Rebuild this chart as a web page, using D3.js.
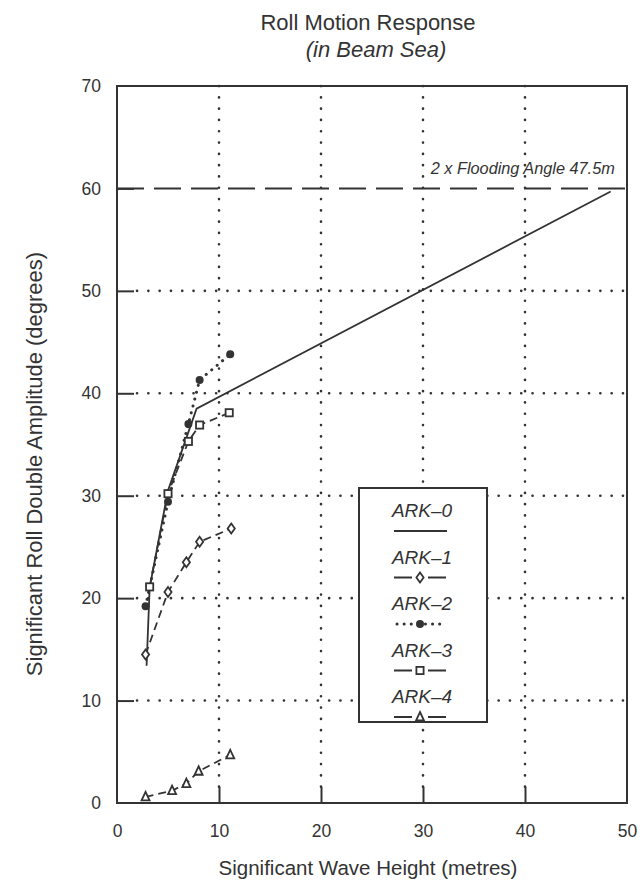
<!DOCTYPE html>
<html>
<head>
<meta charset="utf-8">
<script src="https://cdn.jsdelivr.net/npm/d3@7"></script>
<style>
  html, body { margin: 0; padding: 0; background: #fff; }
  svg { display: block; }
  text { font-family: "Liberation Sans", Arial, Helvetica, sans-serif; fill: #333; }
</style>
</head>
<body>
<svg id="chart" width="642" height="895"></svg>
<script>
// Wave heights (m) and significant roll double amplitude (deg) per hull model
const ark0Wave = [2.9, 3.2, 5.0, 7.8, 48.4];
const ark0Roll = [13.4, 21.0, 30.5, 38.5, 59.7];

const ark1Wave = [2.8, 5.0, 6.8, 8.1, 11.2];
const ark1Roll = [14.5, 20.6, 23.5, 25.5, 26.8];

const ark2Wave = [2.8, 5.0, 7.0, 8.1, 11.1];
const ark2Roll = [19.2, 29.4, 37.0, 41.3, 43.8];

const ark3Wave = [3.2, 5.0, 7.0, 8.1, 11.0];
const ark3Roll = [21.1, 30.2, 35.3, 36.9, 38.1];

const ark4Wave = [2.8, 5.4, 6.8, 8.0, 11.1];
const ark4Roll = [0.6, 1.2, 1.9, 3.1, 4.7];

const floodingAngle = 60;
const xTicks = [0, 10, 20, 30, 40, 50];
const yTicks = [0, 10, 20, 30, 40, 50, 60, 70];
const seriesNames = ["ARK\u20130", "ARK\u20131", "ARK\u20132", "ARK\u20133", "ARK\u20134"];

const ink = "#333";
const svg = d3.select("#chart");

const x = d3.scaleLinear().domain([0, 50]).range([117, 627]);
const y = d3.scaleLinear().domain([0, 70]).range([803, 86]);

// Dotted grid lines
const grid = svg.append("g");
grid.selectAll("line.gx").data(xTicks.slice(1, -1)).enter().append("line")
  .attr("x1", d => x(d)).attr("x2", d => x(d))
  .attr("y1", y(70)).attr("y2", y(0) - 16)
  .attr("stroke", ink).attr("stroke-width", 2.6)
  .attr("stroke-dasharray", "0.1,11.2").attr("stroke-linecap", "round");
grid.selectAll("line.gy").data(yTicks.slice(1, 6)).enter().append("line")
  .attr("y1", d => y(d)).attr("y2", d => y(d))
  .attr("x1", x(0) + 20).attr("x2", x(50))
  .attr("stroke", ink).attr("stroke-width", 2.6)
  .attr("stroke-dasharray", "0.1,11.2").attr("stroke-linecap", "round");

// Frame with inward ticks
svg.append("rect").attr("x", x(0)).attr("y", y(70))
  .attr("width", x(50) - x(0)).attr("height", y(0) - y(70))
  .attr("fill", "none").attr("stroke", ink).attr("stroke-width", 2);

const xAxis = d3.axisBottom(x).tickValues(xTicks).tickSize(-16).tickPadding(22);
svg.append("g").attr("transform", `translate(0,${y(0)})`).call(xAxis)
  .call(g => g.select(".domain").remove())
  .call(g => g.selectAll(".tick line").attr("stroke", ink).attr("stroke-width", 2)
    .filter(d => d === 0 || d === 50).remove())
  .call(g => g.selectAll(".tick text").attr("font-size", 17.5).attr("fill", ink)
    .style("font-family", "'Liberation Sans', Arial, sans-serif"));

const yAxis = d3.axisLeft(y).tickValues(yTicks).tickSize(-17).tickPadding(16);
svg.append("g").attr("transform", `translate(${x(0)},0)`).call(yAxis)
  .call(g => g.select(".domain").remove())
  .call(g => g.selectAll(".tick line").attr("stroke", ink).attr("stroke-width", 2)
    .filter(d => d === 0 || d === 70).remove())
  .call(g => g.selectAll(".tick text").attr("font-size", 17.5).attr("fill", ink)
    .style("font-family", "'Liberation Sans', Arial, sans-serif"));

// Flooding angle reference line
svg.append("line")
  .attr("x1", x(0)).attr("x2", x(50))
  .attr("y1", y(floodingAngle)).attr("y2", y(floodingAngle))
  .attr("stroke", ink).attr("stroke-width", 2)
  .attr("stroke-dasharray", "27,10");
svg.append("text").attr("x", x(48.8)).attr("y", y(floodingAngle) - 14)
  .attr("text-anchor", "end").attr("font-size", 16.3).attr("font-style", "italic")
  .text("2 x Flooding Angle 47.5m");

// Series
const line = d3.line().x(d => x(d[0])).y(d => y(d[1]));
const zip = (a, b) => a.map((v, i) => [v, b[i]]);

const series = [
  { data: zip(ark0Wave, ark0Roll), dash: null, marker: null },
  { data: zip(ark1Wave, ark1Roll), dash: "8,5", marker: "diamond" },
  { data: zip(ark2Wave, ark2Roll), dash: "0.1,7", marker: "dot" },
  { data: zip(ark3Wave, ark3Roll), dash: "8,5", marker: "square" },
  { data: zip(ark4Wave, ark4Roll), dash: "8,5", marker: "triangle" }
];

function drawMarker(g, type, cx, cy) {
  if (type === "diamond") {
    g.append("path").attr("d", `M${cx},${cy - 5} L${cx + 3.6},${cy} L${cx},${cy + 5} L${cx - 3.6},${cy} Z`)
      .attr("fill", "#fff").attr("stroke", ink).attr("stroke-width", 1.8);
  } else if (type === "dot") {
    g.append("circle").attr("cx", cx).attr("cy", cy).attr("r", 4).attr("fill", ink);
  } else if (type === "square") {
    g.append("rect").attr("x", cx - 3.6).attr("y", cy - 3.6).attr("width", 7.2).attr("height", 7.2)
      .attr("fill", "#fff").attr("stroke", ink).attr("stroke-width", 1.8);
  } else if (type === "triangle") {
    g.append("path").attr("d", `M${cx},${cy - 5} L${cx + 4},${cy + 3.5} L${cx - 4},${cy + 3.5} Z`)
      .attr("fill", "#fff").attr("stroke", ink).attr("stroke-width", 1.8);
  }
}

series.forEach(s => {
  const g = svg.append("g");
  g.append("path").datum(s.data).attr("d", line)
    .attr("fill", "none").attr("stroke", ink)
    .attr("stroke-width", s.marker === "dot" ? 3 : 1.8)
    .attr("stroke-linecap", s.marker === "dot" ? "round" : "butt")
    .attr("stroke-dasharray", s.dash);
  if (s.marker) s.data.forEach(d => drawMarker(g, s.marker, x(d[0]), y(d[1])));
});

// Legend
const legend = svg.append("g");
legend.append("rect").attr("x", 359).attr("y", 488).attr("width", 128).attr("height", 234)
  .attr("fill", "#fff").attr("stroke", ink).attr("stroke-width", 2);
seriesNames.forEach((name, i) => {
  const s = series[i];
  const ty = 517 + i * 46.5;
  const sy = ty + 14;
  legend.append("text").attr("x", 422).attr("y", ty).attr("text-anchor", "middle")
    .attr("font-size", 19).attr("font-style", "italic").text(name);
  if (i === 0) {
    legend.append("line").attr("x1", 394).attr("x2", 447).attr("y1", sy).attr("y2", sy)
      .attr("stroke", ink).attr("stroke-width", 2);
  } else if (s.marker === "dot") {
    legend.append("line").attr("x1", 397).attr("x2", 446).attr("y1", sy).attr("y2", sy)
      .attr("stroke", ink).attr("stroke-width", 3).attr("stroke-linecap", "round")
      .attr("stroke-dasharray", "0.1,7");
    drawMarker(legend, "dot", 420, sy);
  } else {
    legend.append("line").attr("x1", 394).attr("x2", 412).attr("y1", sy).attr("y2", sy)
      .attr("stroke", ink).attr("stroke-width", 2);
    legend.append("line").attr("x1", 428).attr("x2", 446).attr("y1", sy).attr("y2", sy)
      .attr("stroke", ink).attr("stroke-width", 2);
    drawMarker(legend, s.marker, 420, sy);
  }
});

// Titles
svg.append("text").attr("x", 368).attr("y", 30).attr("text-anchor", "middle")
  .attr("font-size", 22).text("Roll Motion Response");
svg.append("text").attr("x", 376).attr("y", 57).attr("text-anchor", "middle")
  .attr("font-size", 22).attr("font-style", "italic").text("(in Beam Sea)");
svg.append("text").attr("x", 368).attr("y", 875).attr("text-anchor", "middle")
  .attr("font-size", 20.5).text("Significant Wave Height (metres)");
svg.append("text").attr("transform", "translate(42,464) rotate(-90)").attr("text-anchor", "middle")
  .attr("font-size", 22).text("Significant Roll Double Amplitude (degrees)");
</script>
</body>
</html>
